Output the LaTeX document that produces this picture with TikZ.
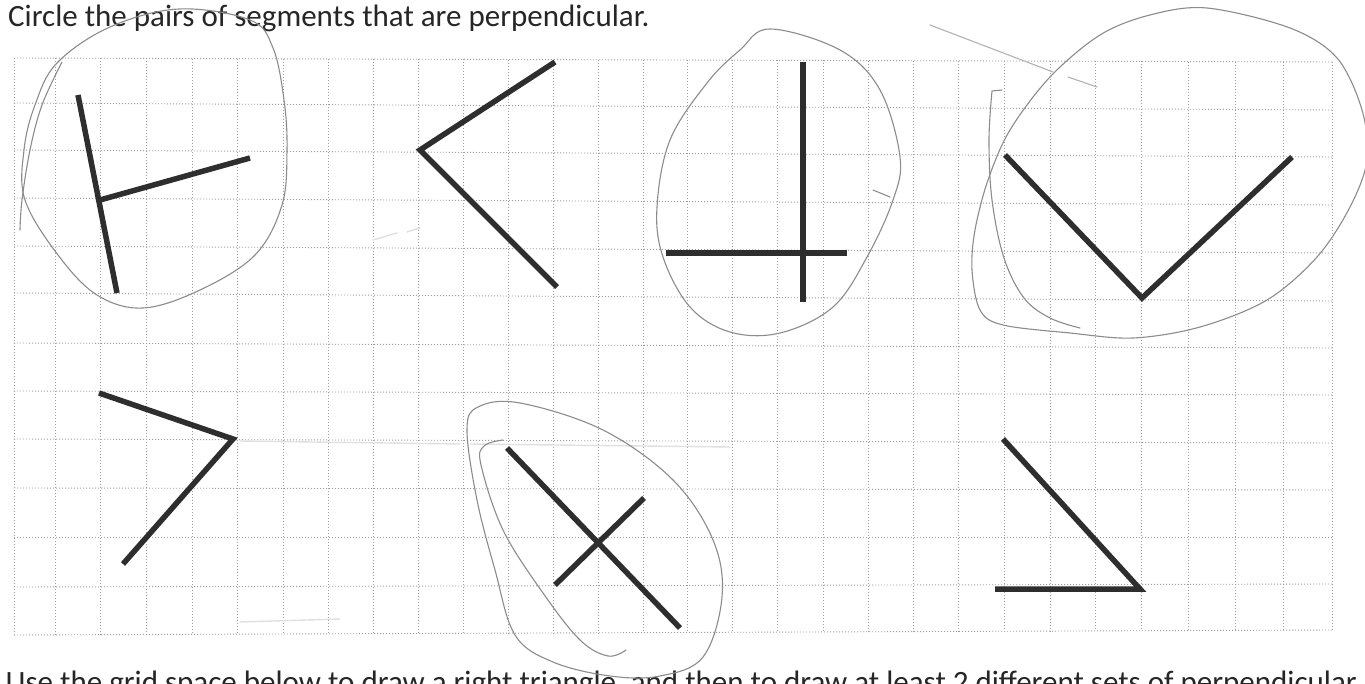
\documentclass[tikz,border=0pt]{standalone}
\usepackage{fontspec}
\setmainfont{Carlito}
\begin{document}
\begin{tikzpicture}[x=1pt,y=-1pt,
  seg/.style={line width=5.5pt, color=black!82, line join=miter},
  pencil/.style={line width=1.1pt, color=black!45, line cap=round, line join=round},
  faint/.style={line width=1.4pt, color=black!12, line cap=round},
  gridline/.style={line width=0.9pt, color=black!38, dash pattern=on 1pt off 2pt},
  txt/.style={inner sep=0pt, font=\fontsize{31}{37}\selectfont, text=black!85}]
\useasboundingbox (0,0) rectangle (1365,684);
\fill[white] (0,0) rectangle (1365,684);
% grid
\foreach \yl/\yr in {58/62,103/110,150/157,198/205,246/253,293/301,343/348,391/395,439/443,488/490,537/537,587/584,635/630}
  \draw[gridline] (14,\yl) -- (1333,\yr);
\foreach \x in {14,55,100,146,192,237,283,328,373,418,463,508,553,598,643,687,732,777,823,868,913,958,1004,1050,1095,1141,1188,1235,1283,1332}
  \draw[gridline] (\x,{58+\x*0.003}) -- (\x,{635-\x*0.0035});
% title
\node[txt, anchor=base west] (title) at (8,27) {Circle the pairs of segments that are perpendicular.};
\begin{scope}
\clip (0,0) rectangle (1365,684);
\node[txt, anchor=base east] (next) at (1357,692) {Use the grid space below to draw a right triangle, and then to draw at least 2 different sets of perpendicular};
\end{scope}
% faint erased marks
\draw[faint] (240,441) -- (460,444);
\draw[faint] (470,444) -- (730,447);
\draw[faint] (373,240) -- (397,233);
\draw[faint] (407,232) -- (420,228);
\draw[faint] (240,622) -- (340,619);
% figure 1
\coordinate (a1) at (78,95); \coordinate (a2) at (117,293);
\coordinate (a3) at (100,200); \coordinate (a4) at (250,158);
\draw[seg] (a1) -- (a2);
\draw[seg] (a3) -- (a4);
% figure 2
\coordinate (b1) at (555,62); \coordinate (b2) at (420,150); \coordinate (b3) at (557,287);
\draw[seg] (b1) -- (b2) -- (b3);
% figure 3
\coordinate (c1) at (803,62); \coordinate (c2) at (803,302);
\coordinate (c3) at (666,253); \coordinate (c4) at (847,253);
\draw[seg] (c1) -- (c2);
\draw[seg] (c3) -- (c4);
% figure 4
\coordinate (d1) at (1005,155); \coordinate (d2) at (1142,298); \coordinate (d3) at (1292,157);
\draw[seg] (d1) -- (d2) -- (d3);
% figure 5
\coordinate (e1) at (99,393); \coordinate (e2) at (233,439); \coordinate (e3) at (123,564);
\draw[seg] (e1) -- (e2) -- (e3);
% figure 6
\coordinate (f1) at (507,448); \coordinate (f2) at (680,628);
\coordinate (f3) at (555,585); \coordinate (f4) at (644,498);
\draw[seg] (f1) -- (f2);
\draw[seg] (f3) -- (f4);
% figure 7
\coordinate (g1) at (1003,439); \coordinate (g2) at (1140,589); \coordinate (g3) at (995,589);
\draw[seg] (g1) -- (g2) -- (g3);
% pencil loops
\draw[pencil] plot[smooth cycle, tension=0.6] coordinates {(179,9) (250,20) (273,48) (284,100) (287,150) (282,205) (255,255) (200,290) (143,308) (97,295) (58,255) (25,200) (24,150) (35,105) (57,63) (110,27)};
\draw[pencil] plot[smooth, tension=0.6] coordinates {(62,62) (42,105) (30,150) (22,200) (20,230)};
\draw[pencil] plot[smooth cycle, tension=0.6] coordinates {(770,29) (840,50) (880,90) (900,157) (893,200) (867,257) (833,307) (780,333) (730,332) (690,307) (663,257) (657,207) (670,140) (707,83) (740,50)};
\draw[pencil] (873,190) -- (890,197);
\draw[pencil] plot[smooth cycle, tension=0.55] coordinates {(1207,8) (1290,28) (1337,58) (1362,110) (1367,160) (1350,207) (1317,257) (1267,300) (1200,327) (1133,338) (1070,333) (1003,325) (980,310) (972,270) (975,230) (988,180) (1010,130) (1050,77) (1100,35) (1150,15)};
\draw[pencil] (1002,90) -- (992,91) plot[smooth, tension=0.6] coordinates {(992,91) (989,140) (992,200) (1004,258) (1024,298) (1050,318) (1080,328)};
\draw[pencil, color=black!30] (930,25) -- (1053,72);
\draw[pencil, color=black!30] (1068,77) -- (1097,87);
\draw[pencil] plot[smooth cycle, tension=0.6] coordinates {(520,403) (603,430) (673,480) (713,540) (722,597) (703,657) (660,676) (610,676) (553,662) (515,635) (495,570) (477,500) (467,430) (478,407)};
\draw[pencil] plot[smooth, tension=0.6] coordinates {(503,440) (484,446) (481,465) (503,530) (543,593) (580,640) (608,656) (626,650)};
\end{tikzpicture}
\end{document}
